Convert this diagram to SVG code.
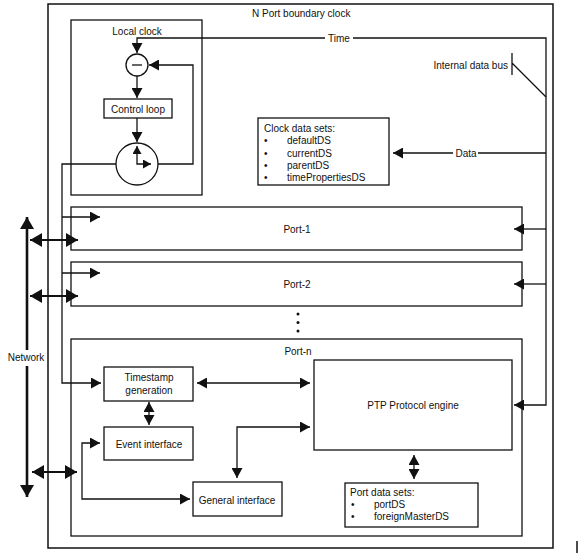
<svg xmlns="http://www.w3.org/2000/svg" width="583" height="558" viewBox="0 0 583 558">
<defs>
<style>
rect.b{fill:#fff;stroke:#111;stroke-width:1.3}
circle.b{fill:#fff;stroke:#111;stroke-width:1.3}
text{font-family:"Liberation Sans",Arial,sans-serif;font-size:10px;fill:#111}
.c{text-anchor:middle}
.e{text-anchor:end}
.ln{fill:none;stroke:#111;stroke-width:1.3}
.net{fill:none;stroke:#111;stroke-width:2.6}
.bi{fill:none;stroke:#111;stroke-width:1.8}
</style>
<marker id="a" markerUnits="userSpaceOnUse" markerWidth="10" markerHeight="11" refX="10" refY="5.5" orient="auto-start-reverse"><path d="M0,0 L10,5.5 L0,11 z" fill="#111"/></marker>
<marker id="s" markerUnits="userSpaceOnUse" markerWidth="8" markerHeight="9" refX="8" refY="4.5" orient="auto-start-reverse"><path d="M0,0 L8,4.5 L0,9 z" fill="#111"/></marker>
<marker id="L" markerUnits="userSpaceOnUse" markerWidth="12" markerHeight="14" refX="12" refY="7" orient="auto-start-reverse"><path d="M0,0 L12,7 L0,14 z" fill="#111"/></marker>
</defs>
<rect width="583" height="558" fill="#fff"/>

<g id="boundary-clock">
<rect class="b" x="48" y="4" width="505" height="544" style="stroke-width:1.5"/>
<text x="252" y="17">N Port boundary clock</text>
</g>

<g id="local-clock">
<rect class="b" x="71" y="20" width="131" height="175"/>
<text class="c" x="137" y="34.5">Local clock</text>
</g>

<g id="subtractor">
<circle class="b" cx="137" cy="65" r="11"/>
<path class="ln" d="M132,65 H142"/>
</g>

<g id="control-loop">
<rect class="b" x="104" y="99" width="68" height="19"/>
<text class="c" x="138" y="112.5">Control loop</text>
</g>

<g id="clock">
<circle class="b" cx="137" cy="164" r="21"/>
<path class="ln" d="M137,146 V164 H151" marker-start="url(#s)" marker-end="url(#s)"/>
</g>

<g id="clock-data-sets">
<rect class="b" x="258" y="118" width="131" height="67"/>
<text x="264" y="132">Clock data sets:</text>
<text x="264" y="144">•</text><text x="287" y="144">defaultDS</text>
<text x="264" y="156.5">•</text><text x="287" y="156.5">currentDS</text>
<text x="264" y="169">•</text><text x="287" y="169">parentDS</text>
<text x="264" y="181">•</text><text x="287" y="181">timePropertiesDS</text>
</g>

<g id="port-1">
<rect class="b" x="71" y="207" width="451" height="43"/>
<text class="c" x="297" y="232.5">Port-1</text>
</g>

<g id="port-2">
<rect class="b" x="71" y="262" width="451" height="44"/>
<text class="c" x="297" y="287.5">Port-2</text>
</g>

<g id="ellipsis">
<circle cx="298" cy="314" r="1.5" fill="#111"/>
<circle cx="298" cy="322.5" r="1.5" fill="#111"/>
<circle cx="298" cy="331" r="1.5" fill="#111"/>
</g>

<g id="port-n">
<rect class="b" x="71" y="339" width="451" height="197"/>
<text class="c" x="298" y="354.5">Port-n</text>
</g>

<g id="timestamp-generation">
<rect class="b" x="104" y="367" width="89" height="34"/>
<text class="c" x="149" y="380.5">Timestamp</text>
<text class="c" x="149" y="393.5">generation</text>
</g>

<g id="event-interface">
<rect class="b" x="104" y="427" width="89" height="33"/>
<text class="c" x="149" y="447.5">Event interface</text>
</g>

<g id="general-interface">
<rect class="b" x="193" y="482" width="89" height="34"/>
<text class="c" x="237" y="503.5">General interface</text>
</g>

<g id="ptp-engine">
<rect class="b" x="314" y="360" width="198" height="90"/>
<text class="c" x="413" y="408.5">PTP Protocol engine</text>
</g>

<g id="port-data-sets">
<rect class="b" x="345" y="483" width="133" height="44"/>
<text x="350" y="495.5">Port data sets:</text>
<text x="351" y="507.5">•</text><text x="374" y="507.5">portDS</text>
<text x="351" y="519.5">•</text><text x="374" y="519.5">foreignMasterDS</text>
</g>

<g id="network">
<text class="c" x="26" y="360.5">Network</text>
</g>

<g id="connectors">
<path class="ln" d="M325,38 H137 V53" marker-end="url(#a)"/>
<path class="ln" d="M353,38 H546 V405 H514" marker-end="url(#a)"/>
<text class="c" x="339" y="41.5">Time</text>
<path class="ln" d="M546,229 H514" marker-end="url(#a)"/>
<path class="ln" d="M546,284 H514" marker-end="url(#a)"/>
<path class="ln" d="M546,153 H478"/>
<path class="ln" d="M453,153 H393" marker-end="url(#a)"/>
<text class="c" x="466" y="156.5">Data</text>
<path class="ln" d="M512,53 V75 M512,63 L546,97"/>
<text class="e" x="508" y="68.5">Internal data bus</text>
<path class="ln" d="M137,76 V98" marker-end="url(#a)"/>
<path class="ln" d="M137,118 V142" marker-end="url(#a)"/>
<path class="ln" d="M158,164 H193 V65 H149" marker-end="url(#a)"/>
<path class="ln" d="M116,164 H62 V383 H101" marker-end="url(#a)"/>
<path class="ln" d="M62,217 H100" marker-end="url(#a)"/>
<path class="ln" d="M62,273 H100" marker-end="url(#a)"/>
<path class="net" d="M27,350 V217" marker-end="url(#L)"/>
<path class="net" d="M27,366 V497" marker-end="url(#L)"/>
<path class="bi" d="M30,240 H78" marker-start="url(#L)" marker-end="url(#L)"/>
<path class="bi" d="M30,296 H78" marker-start="url(#L)" marker-end="url(#L)"/>
<path class="bi" d="M32,472 H77" marker-start="url(#L)" marker-end="url(#L)"/>
<path class="ln" d="M197,383 H310" marker-start="url(#a)" marker-end="url(#a)"/>
<path class="ln" d="M149,402 V425" marker-start="url(#a)" marker-end="url(#a)"/>
<path class="ln" d="M100,443 H82 V499 H190" marker-start="url(#a)" marker-end="url(#a)"/>
<path class="ln" d="M310,427 H237 V478" marker-start="url(#a)" marker-end="url(#a)"/>
<path class="ln" d="M414,455 V479" marker-start="url(#a)" marker-end="url(#a)"/>
</g>

<path d="M577,541 V553" stroke="#111" stroke-width="1.5"/>
</svg>
